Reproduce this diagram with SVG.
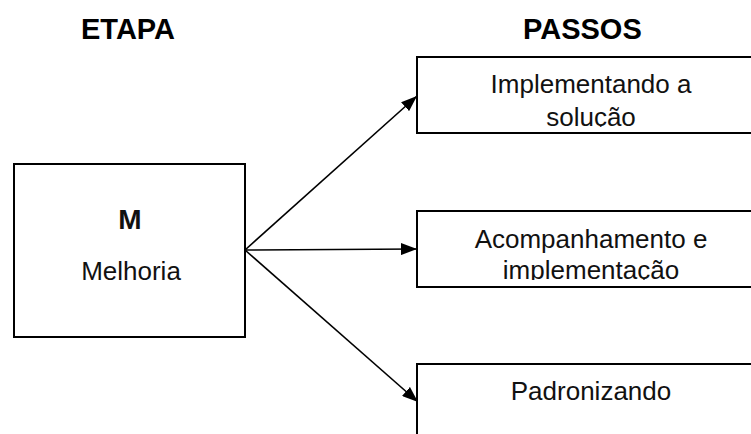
<svg xmlns="http://www.w3.org/2000/svg" width="751" height="434" viewBox="0 0 751 434">
  <style>
    .box { fill: #ffffff; stroke: #000000; stroke-width: 2; }
    .head { font-family: "Liberation Sans", Arial, sans-serif; font-size: 29px; font-weight: bold; fill: #000000; }
    .lbl { font-family: "Liberation Sans", Arial, sans-serif; font-size: 26px; fill: #111111; text-anchor: middle; }
    .bold { font-weight: bold; font-size: 28px; }
    .link { fill: none; stroke: #000000; stroke-width: 1.6; }
  </style>
  <defs>
    <marker id="arrow" viewBox="0 0 16 12" refX="16" refY="6" markerWidth="16" markerHeight="12" markerUnits="userSpaceOnUse" orient="auto">
      <path d="M0,0 L16,6 L0,12 Z" fill="#000000"/>
    </marker>
    <clipPath id="clipTop"><rect x="417" y="57" width="334" height="70"/></clipPath>
    <clipPath id="clipMid"><rect x="417" y="211" width="334" height="69"/></clipPath>
  </defs>
  <rect width="751" height="434" fill="#ffffff"/>

  <!-- column headings -->
  <text class="head" x="81" y="39">ETAPA</text>
  <text class="head" x="523" y="39">PASSOS</text>

  <!-- connectors -->
  <g id="connectors">
    <line class="link" x1="245" y1="250" x2="417" y2="96" marker-end="url(#arrow)"/>
    <line class="link" x1="245" y1="250" x2="417" y2="249" marker-end="url(#arrow)"/>
    <line class="link" x1="245" y1="250" x2="418" y2="402" marker-end="url(#arrow)"/>
  </g>

  <!-- stage -->
  <g id="node-melhoria">
    <rect class="box" x="14" y="164" width="231" height="173"/>
    <text class="lbl bold" x="130" y="229">M</text>
    <text class="lbl" x="131" y="280">Melhoria</text>
  </g>

  <!-- steps -->
  <g id="node-implementando">
    <rect class="box" x="417" y="57" width="340" height="76"/>
    <g clip-path="url(#clipTop)">
      <text class="lbl" x="591" y="93">Implementando a</text>
      <text class="lbl" x="591" y="126">solução</text>
    </g>
  </g>

  <g id="node-acompanhamento">
    <rect class="box" x="417" y="211" width="340" height="76"/>
    <g clip-path="url(#clipMid)">
      <text class="lbl" x="591" y="248">Acompanhamento e</text>
      <text class="lbl" x="591" y="279">implementação</text>
    </g>
  </g>

  <g id="node-padronizando">
    <rect class="box" x="417" y="364" width="340" height="80"/>
    <text class="lbl" x="591" y="400">Padronizando</text>
  </g>
</svg>
